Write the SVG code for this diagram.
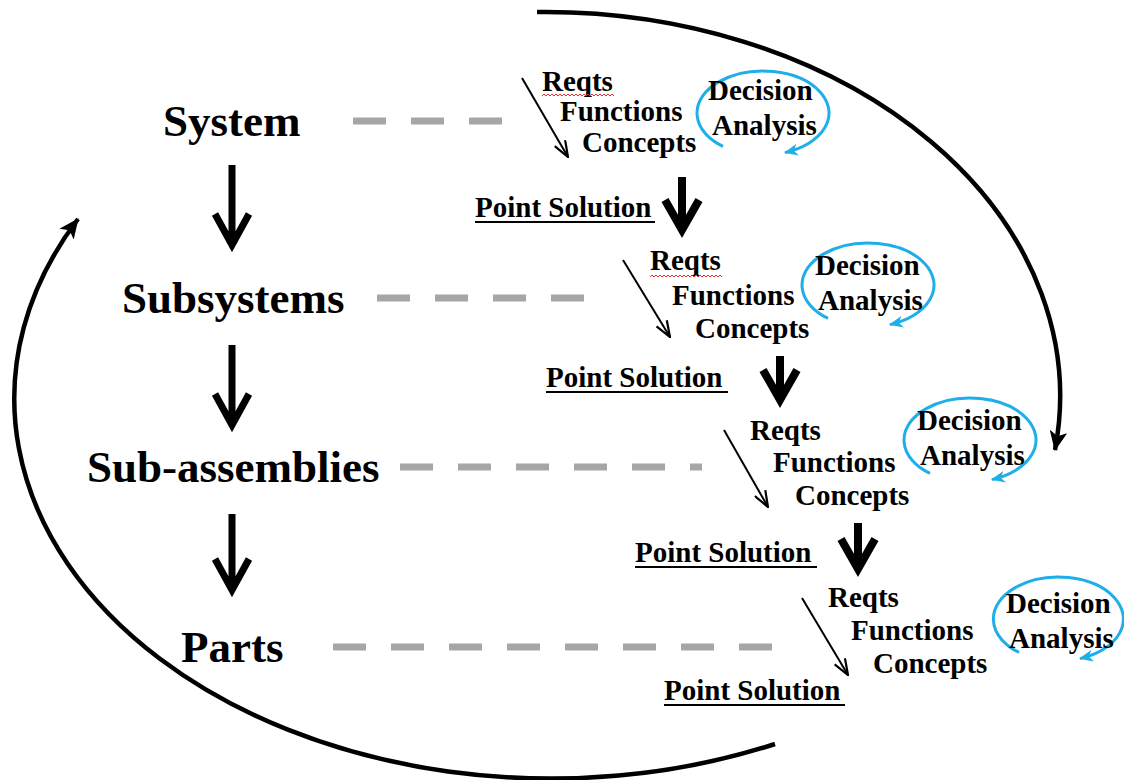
<svg xmlns="http://www.w3.org/2000/svg" width="1124" height="780" viewBox="0 0 1124 780">
<style>
.lvl{font-family:"Liberation Serif","Times New Roman",serif;font-weight:bold;font-size:45px;fill:#000}
.t{font-family:"Liberation Serif","Times New Roman",serif;font-weight:bold;font-size:29px;fill:#000}
.dash{stroke:#a6a6a6;stroke-width:7;stroke-dasharray:33 25;fill:none}
.big{stroke:#000;stroke-width:4.5;fill:none}
.down{stroke:#000;stroke-width:7;fill:none;stroke-linejoin:miter}
.down2{stroke:#000;stroke-width:8;fill:none;stroke-linejoin:miter}
.diag{stroke:#000;stroke-width:2;fill:none}
.loop{stroke:#1eaee8;stroke-width:3;fill:none}
.ul{stroke:#000;stroke-width:2}
.wavy{stroke:#e23030;stroke-width:1;fill:none}
</style>
<defs>
<marker id="bigHead" viewBox="0 0 20 18" refX="19" refY="9" markerWidth="20" markerHeight="18" markerUnits="userSpaceOnUse" orient="auto">
<path d="M0,0 L20,9 L0,18 L5,9 z" fill="#000"/>
</marker>
<marker id="thinHead" viewBox="0 0 18 14" refX="17" refY="7" markerWidth="18" markerHeight="14" markerUnits="userSpaceOnUse" orient="auto">
<path d="M1,1 L17,7 L1,13" fill="none" stroke="#000" stroke-width="2.2"/>
</marker>
<marker id="blueHead" viewBox="0 0 14 12" refX="13" refY="6" markerWidth="14" markerHeight="12" markerUnits="userSpaceOnUse" orient="auto">
<path d="M0,0 L14,6 L0,12 L4,6 z" fill="#1eaee8"/>
</marker>
</defs>

<g id="connectors">
<path class="dash" d="M353,121 H503"/>
<path class="dash" d="M377,298 H584"/>
<path class="dash" d="M400,467 H702"/>
<path class="dash" d="M333,647 H772"/>
<path class="big" d="M537,12 A515,384 0 0 1 1055,450" marker-end="url(#bigHead)"/>
<path class="big" d="M775,744 A537,380 0 0 1 78,219" marker-end="url(#bigHead)"/>
<path class="down" d="M232,165 V244 M215,214 L232,245 L249,214"/>
<path class="down" d="M232,345 V424 M215,394 L232,425 L249,394"/>
<path class="down" d="M232,514 V589 M215,559 L232,590 L249,559"/>
<path class="down2" d="M682,177 V229 M665,200 L682,230 L699,200"/>
<path class="down2" d="M780,356 V399 M763,370 L780,400 L797,370"/>
<path class="down2" d="M858,523 V568 M841,539 L858,569 L875,539"/>
<path class="diag" d="M522,78 L568,157" marker-end="url(#thinHead)"/>
<path class="diag" d="M623,260 L670,337" marker-end="url(#thinHead)"/>
<path class="diag" d="M724,430 L768,507" marker-end="url(#thinHead)"/>
<path class="diag" d="M802,598 L848,675" marker-end="url(#thinHead)"/>
</g>

<g id="system"><text class="lvl" x="163" y="136">System</text></g>
<g id="subsystems"><text class="lvl" x="122" y="313">Subsystems</text></g>
<g id="subassemblies"><text class="lvl" x="87" y="482">Sub-assemblies</text></g>
<g id="parts"><text class="lvl" x="181" y="662">Parts</text></g>

<g id="block1">
<text class="t" x="542" y="91">Reqts</text>
<path class="wavy" d="M542,96 l2,-2 l2,2 l2,-2 l2,2 l2,-2 l2,2 l2,-2 l2,2 l2,-2 l2,2 l2,-2 l2,2 l2,-2 l2,2 l2,-2 l2,2 l2,-2 l2,2 l2,-2 l2,2 l2,-2 l2,2 l2,-2 l2,2 l2,-2 l2,2 l2,-2 l2,2 l2,-2 l2,2 l2,-2 l2,2 l2,-2 l2,2 l2,-2 l2,2"/>
<text class="t" x="560" y="121">Functions</text>
<text class="t" x="582" y="152">Concepts</text>
<path class="loop" d="M723,146.4 A66,42 0 1 1 785,152.6" marker-end="url(#blueHead)"/>
<text class="t" x="708" y="100">Decision</text>
<text class="t" x="712" y="135">Analysis</text>
<text class="t" x="475" y="217">Point Solution</text>
<line class="ul" x1="475" y1="222" x2="655" y2="222"/>
</g>

<g id="block2">
<text class="t" x="650" y="270">Reqts</text>
<path class="wavy" d="M650,277 l2,-2 l2,2 l2,-2 l2,2 l2,-2 l2,2 l2,-2 l2,2 l2,-2 l2,2 l2,-2 l2,2 l2,-2 l2,2 l2,-2 l2,2 l2,-2 l2,2 l2,-2 l2,2 l2,-2 l2,2 l2,-2 l2,2 l2,-2 l2,2 l2,-2 l2,2 l2,-2 l2,2 l2,-2 l2,2 l2,-2 l2,2 l2,-2 l2,2"/>
<text class="t" x="672" y="305">Functions</text>
<text class="t" x="695" y="338">Concepts</text>
<path class="loop" d="M828,318.4 A66,42 0 1 1 890,324.6" marker-end="url(#blueHead)"/>
<text class="t" x="815" y="275">Decision</text>
<text class="t" x="818" y="310">Analysis</text>
<text class="t" x="546" y="387">Point Solution</text>
<line class="ul" x1="546" y1="392" x2="728" y2="392"/>
</g>

<g id="block3">
<text class="t" x="750" y="440">Reqts</text>
<text class="t" x="773" y="472">Functions</text>
<text class="t" x="795" y="505">Concepts</text>
<path class="loop" d="M930,473.4 A66,42 0 1 1 992,479.6" marker-end="url(#blueHead)"/>
<text class="t" x="917" y="430">Decision</text>
<text class="t" x="920" y="465">Analysis</text>
<text class="t" x="635" y="562">Point Solution</text>
<line class="ul" x1="635" y1="567" x2="817" y2="567"/>
</g>

<g id="block4">
<text class="t" x="828" y="607">Reqts</text>
<text class="t" x="851" y="640">Functions</text>
<text class="t" x="873" y="673">Concepts</text>
<path class="loop" d="M1019,652.4 A65,42 0 1 1 1080,658.6" marker-end="url(#blueHead)"/>
<text class="t" x="1006" y="613">Decision</text>
<text class="t" x="1009" y="648">Analysis</text>
<text class="t" x="664" y="700">Point Solution</text>
<line class="ul" x1="664" y1="705" x2="845" y2="705"/>
</g>
</svg>
